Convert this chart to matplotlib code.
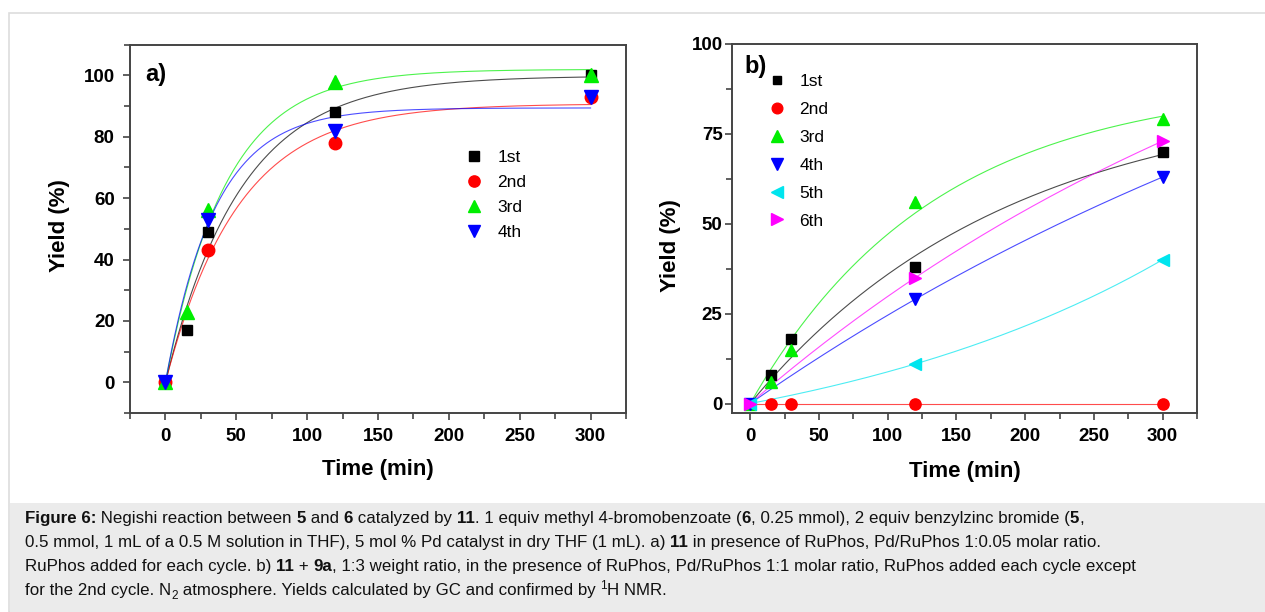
import matplotlib
matplotlib.use("Agg")
import matplotlib.pyplot as plt
import numpy as np
from matplotlib.lines import Line2D
from matplotlib.patches import Rectangle
from matplotlib.ticker import MultipleLocator

plt.rcParams['font.family'] = ['Liberation Sans', 'DejaVu Sans']

# ---------------- data ----------------
a_labels = ["1st", "2nd", "3rd", "4th"]
a_t = {
    "1st": [0, 15, 30, 120, 300],
    "2nd": [0, 30, 120, 300],
    "3rd": [0, 15, 30, 120, 300],
    "4th": [0, 30, 120, 300],
}
a_y = {
    "1st": [0, 17, 49, 88, 100],
    "2nd": [0, 43, 78, 93],
    "3rd": [0, 23, 56, 98, 100],
    "4th": [0, 53, 82, 93],
}

b_labels = ["1st", "2nd", "3rd", "4th", "5th", "6th"]
b_t = {
    "1st": [0, 15, 30, 120, 300],
    "2nd": [0, 15, 30, 120, 300],
    "3rd": [0, 15, 30, 120, 300],
    "4th": [0, 120, 300],
    "5th": [0, 120, 300],
    "6th": [0, 120, 300],
}
b_y = {
    "1st": [0, 8, 18, 38, 70],
    "2nd": [0, 0, 0, 0, 0],
    "3rd": [0, 6, 15, 56, 79],
    "4th": [0, 29, 63],
    "5th": [0, 11, 40],
    "6th": [0, 35, 73],
}

colors = {"1st": "black", "2nd": "#ff0000", "3rd": "#00ee00", "4th": "#0000ff",
          "5th": "#00e5ee", "6th": "#ff00ff"}
markers = {"1st": "s", "2nd": "o", "3rd": "^", "4th": "v", "5th": "<", "6th": ">"}
msizes = {"s": 7.5, "o": 9, "^": 9.5, "v": 9.5, "<": 9.5, ">": 9.5}

W, H = 1265, 612
fig = plt.figure(figsize=(W / 100, H / 100), dpi=100)
fig.patch.set_facecolor("white")


def px(x0, y0, x1, y1):
    return [x0 / W, 1 - y1 / H, (x1 - x0) / W, (y1 - y0) / H]


# outer frame and caption box
fig.add_artist(Rectangle((9 / W, 0), 1, 1 - 13 / H, transform=fig.transFigure,
                         facecolor="none", edgecolor="#dddddd", lw=1.2, zorder=0))
fig.add_artist(Rectangle((9.5 / W, 0), 1, (H - 503) / H, transform=fig.transFigure,
                         facecolor="#ebebeb", edgecolor="none", zorder=0))


def exp_fit(t, y):
    """least-squares fit of y = A*(1-exp(-k t)), k may be negative (convex growth)"""
    t = np.asarray(t, float)
    y = np.asarray(y, float)
    ks = np.concatenate([-np.logspace(-4, -1.5, 1500), np.logspace(-4, 0, 3000)])
    best = None
    for k in ks:
        f = 1 - np.exp(-k * t)
        A = (f @ y) / (f @ f)
        err = np.sum((A * f - y) ** 2)
        if best is None or err < best[0]:
            best = (err, A, k)
    return best[1], best[2]


def style_axes(ax):
    for s in ax.spines.values():
        s.set_color("#444444")
        s.set_linewidth(1.4)
    ax.tick_params(which="both", direction="out", top=False, right=False,
                   color="#444444", width=1.2)
    ax.tick_params(which="major", length=5)
    ax.tick_params(which="minor", length=4)
    for lab in ax.get_xticklabels() + ax.get_yticklabels():
        lab.set_fontweight("bold")
        lab.set_fontsize(13.5)


tt = np.linspace(0, 300, 400)

# ---------------- panel a ----------------
axa = fig.add_axes(px(130, 44.7, 626, 413))
for lab in a_labels:
    A, k = exp_fit(a_t[lab], a_y[lab])
    axa.plot(tt, A * (1 - np.exp(-k * tt)), color=colors[lab], lw=0.8, alpha=0.7, zorder=2)
for lab in a_labels:
    m = markers[lab]
    axa.plot(a_t[lab], a_y[lab], ls="none", marker=m, ms=msizes[m],
             color=colors[lab], zorder=3)
axa.set_xlim(-25, 325)
axa.set_ylim(-10, 110)
axa.xaxis.set_major_locator(MultipleLocator(50))
axa.xaxis.set_minor_locator(MultipleLocator(25))
axa.yaxis.set_major_locator(MultipleLocator(20))
axa.yaxis.set_minor_locator(MultipleLocator(10))
style_axes(axa)
axa.tick_params(axis="y", which="major", pad=6)
axa.tick_params(axis="x", which="major", pad=6)
axa.set_xlabel("Time (min)", fontsize=16, fontweight="bold", va="center")
axa.xaxis.set_label_coords(0.5, (413 - 470) / 368.3)
axa.set_ylabel("Yield (%)", fontsize=16, fontweight="bold", va="center")
axa.yaxis.set_label_coords((60 - 130) / 496, (413 - 226) / 368.3)
axa.text(0.03, 0.918, "a)", transform=axa.transAxes, fontsize=17, fontweight="bold",
         ha="left", va="center")
handles_a = [Line2D([], [], ls="none", marker=markers[l], ms=msizes[markers[l]] * 0.9,
                    color=colors[l], label=l) for l in a_labels]
axa.legend(handles=handles_a, loc="upper left", bbox_to_anchor=(0.676, 0.714),
           frameon=False, fontsize=12.5, handlelength=1.0, handletextpad=0.85,
           labelspacing=0.56, borderpad=0, borderaxespad=0)

# ---------------- panel b ----------------
axb = fig.add_axes(px(732.3, 44, 1197, 412.5))
for lab in b_labels:
    A, k = exp_fit(b_t[lab], b_y[lab])
    axb.plot(tt, A * (1 - np.exp(-k * tt)), color=colors[lab], lw=0.8, alpha=0.7, zorder=2)
for lab in b_labels:
    m = markers[lab]
    axb.plot(b_t[lab], b_y[lab], ls="none", marker=m, ms=msizes[m] * 0.9,
             color=colors[lab], zorder=3)
axb.set_xlim(-13, 325)
axb.set_ylim(-2.5, 100)
axb.xaxis.set_major_locator(MultipleLocator(50))
axb.xaxis.set_minor_locator(MultipleLocator(25))
axb.yaxis.set_major_locator(MultipleLocator(25))
axb.yaxis.set_minor_locator(MultipleLocator(12.5))
style_axes(axb)
axb.tick_params(axis="y", which="major", pad=2)
axb.tick_params(axis="x", which="major", pad=6)
axb.set_xlabel("Time (min)", fontsize=16, fontweight="bold", va="center")
axb.xaxis.set_label_coords(0.5, (412.5 - 472) / 368.5)
axb.set_ylabel("Yield (%)", fontsize=16, fontweight="bold", va="center")
axb.yaxis.set_label_coords((670 - 732.3) / 464.7, (412.5 - 246) / 368.5)
axb.text(0.027, 0.9376, "b)", transform=axb.transAxes, fontsize=17, fontweight="bold",
         ha="left", va="center")
handles_b = [Line2D([], [], ls="none", marker=markers[l], ms=msizes[markers[l]] * 0.85,
                    color=colors[l], label=l) for l in b_labels]
axb.legend(handles=handles_b, loc="upper left", bbox_to_anchor=(0.0775, 0.918),
           frameon=False, fontsize=12.5, handlelength=1.0, handletextpad=0.8,
           labelspacing=0.73, borderpad=0, borderaxespad=0)

# ---------------- caption ----------------
renderer = fig.canvas.get_renderer()
CAP_FS = 12.15


def text_width(s, weight, size):
    t1 = fig.text(0, 0, "a" + s + "a", fontsize=size, fontweight=weight)
    t2 = fig.text(0, 0, "aa", fontsize=size, fontweight=weight)
    w = t1.get_window_extent(renderer).width - t2.get_window_extent(renderer).width
    t1.remove()
    t2.remove()
    return w


def rich_line(x, y, segs):
    for s, style in segs:
        weight = "bold" if style == "b" else "normal"
        size = CAP_FS
        dy = 0
        if style == "sub":
            size = CAP_FS * 0.7
            dy = 4
        elif style == "sup":
            size = CAP_FS * 0.7
            dy = -6
        fig.text(x / W, 1 - (y + dy) / H, s, fontsize=size, fontweight=weight,
                 ha="left", va="baseline", color="#111111")
        x += text_width(s, weight, size)


lines = [
    [("Figure 6:", "b"), (" Negishi reaction between ", "n"), ("5", "b"), (" and ", "n"),
     ("6", "b"), (" catalyzed by ", "n"), ("11", "b"),
     (". 1 equiv methyl 4-bromobenzoate (", "n"), ("6", "b"),
     (", 0.25 mmol), 2 equiv benzylzinc bromide (", "n"), ("5", "b"), (",", "n")],
    [("0.5 mmol, 1 mL of a 0.5 M solution in THF), 5 mol % Pd catalyst in dry THF (1 mL). a) ", "n"),
     ("11", "b"), (" in presence of RuPhos, Pd/RuPhos 1:0.05 molar ratio.", "n")],
    [("RuPhos added for each cycle. b) ", "n"), ("11", "b"), (" + ", "n"), ("9a", "b"),
     (", 1:3 weight ratio, in the presence of RuPhos, Pd/RuPhos 1:1 molar ratio, RuPhos added each cycle except", "n")],
    [("for the 2nd cycle. N", "n"), ("2", "sub"),
     (" atmosphere. Yields calculated by GC and confirmed by ", "n"), ("1", "sup"),
     ("H NMR.", "n")],
]
for i, segs in enumerate(lines):
    rich_line(25, 523 + i * 24.0, segs)

fig.savefig("out.png", dpi=100)
